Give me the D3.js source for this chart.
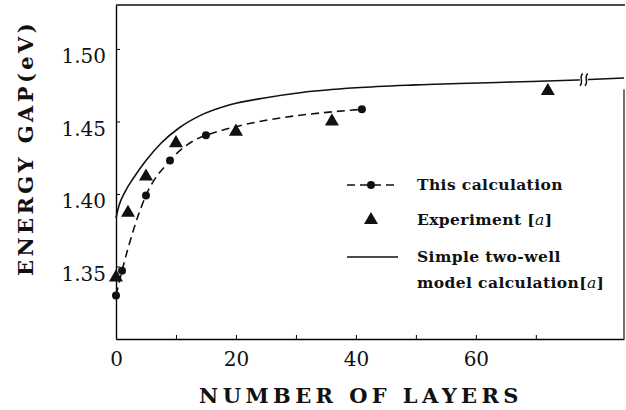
<!DOCTYPE html>
<html>
<head>
<meta charset="utf-8">
<script src="https://cdn.jsdelivr.net/npm/d3@7"></script>
<style>
  body { margin: 0; background: #fff; }
  text { fill: #111; }
</style>
</head>
<body>
<svg id="chart" width="626" height="410"></svg>
<script>
// this calculation (dots, dashed)
var calcLayers = [0, 1, 5, 9, 15, 41]
var calcGap = [1.330, 1.347, 1.399, 1.423, 1.4405, 1.4584]

// experiment [a] (triangles)
var expLayers = [0, 2, 5, 10, 20, 36, 72]
var expGap = [1.3425, 1.387, 1.412, 1.435, 1.443, 1.450, 1.471]

// simple two-well model (solid)
var modelLayers = [0, 0.5, 1.5, 3, 5, 7.5, 10.5, 14, 19, 25, 31, 40, 50, 66, 77, 84.7]
var modelGap = [1.3834, 1.392, 1.4015, 1.4115, 1.423, 1.435, 1.4455, 1.454, 1.4615, 1.4664, 1.47, 1.4732, 1.4752, 1.4772, 1.4786, 1.48]

var xTicks = [0, 10, 20, 30, 40, 50, 60, 70]
var xLabels = [0, 20, 40, 60]
var yTicks = [1.35, 1.40, 1.45, 1.50]
var breakAt = 78

var svg = d3.select('#chart')

var x = d3.scaleLinear().domain([0, 84.7]).range([116, 624])
var y = d3.scaleLinear().domain([1.30, 1.5303]).range([339, 5])

var calc = calcLayers.map((d, i) => ({ x: d, y: calcGap[i] }))
var exp = expLayers.map((d, i) => ({ x: d, y: expGap[i] }))
var model = modelLayers.map((d, i) => ({ x: d, y: modelGap[i] }))

// axes (ticks point inward)
var xAxis = svg
	.append('g')
	.attr('transform', 'translate(0,' + y.range()[0] + ')')
	.call(
		d3
			.axisBottom(x)
			.tickValues(xTicks)
			.tickSize(-4)
			.tickSizeOuter(0)
			.tickPadding(13)
			.tickFormat((d) => (xLabels.includes(d) ? d : ''))
	)
xAxis.select('.domain').attr('stroke-width', 1.4)
xAxis.selectAll('text').attr('font-family', 'DejaVu Serif').attr('font-size', 20)

var yAxis = svg
	.append('g')
	.attr('transform', 'translate(' + x.range()[0] + ',0)')
	.call(d3.axisLeft(y).tickValues(yTicks).tickSize(-4).tickSizeOuter(0).tickPadding(10).tickFormat(d3.format('.2f')))
yAxis.select('.domain').attr('stroke-width', 1.4)
yAxis.selectAll('text').attr('font-family', 'DejaVu Serif').attr('font-size', 20).attr('dy', '0.68em')
svg.selectAll('.tick line').attr('stroke-width', 1)

// top and right edges of the frame
svg
	.append('line')
	.attr('x1', x.range()[0])
	.attr('x2', x.range()[1] + 1)
	.attr('y1', y.range()[1])
	.attr('y2', y.range()[1])
	.attr('stroke', '#111')
	.attr('stroke-width', 1.4)
svg
	.append('line')
	.attr('x1', x.range()[1])
	.attr('x2', x.range()[1])
	.attr('y1', y(1.472))
	.attr('y2', y.range()[0])
	.attr('stroke', '#111')
	.attr('stroke-width', 1.2)

// model curve
var line = d3
	.line()
	.x((d) => x(d.x))
	.y((d) => y(d.y))
	.curve(d3.curveMonotoneX)

svg.append('path').datum(model).attr('d', line).attr('fill', 'none').attr('stroke', '#111').attr('stroke-width', 1.6)

// axis break on the model curve
var bi = modelLayers.findIndex((d) => d > breakAt)
var bt = (breakAt - modelLayers[bi - 1]) / (modelLayers[bi] - modelLayers[bi - 1])
var bx = x(breakAt)
var by = y(modelGap[bi - 1] + bt * (modelGap[bi] - modelGap[bi - 1]))
svg.append('rect').attr('x', bx - 4).attr('y', by - 3).attr('width', 8).attr('height', 6).attr('fill', '#fff')
;[-2.5, 2.5].forEach(function (o) {
	var p = d3.path()
	p.moveTo(bx + o + 1.5, by - 6)
	p.bezierCurveTo(bx + o - 3, by - 3, bx + o + 3, by + 3, bx + o - 1.5, by + 6)
	svg.append('path').attr('d', p.toString()).attr('fill', 'none').attr('stroke', '#111').attr('stroke-width', 1.5)
})

// this calculation
svg
	.append('path')
	.datum(calc)
	.attr('d', line)
	.attr('fill', 'none')
	.attr('stroke', '#111')
	.attr('stroke-width', 1.6)
	.attr('stroke-dasharray', '8,5')

svg
	.selectAll('.dot')
	.data(calc)
	.join('circle')
	.attr('class', 'dot')
	.attr('cx', (d) => x(d.x))
	.attr('cy', (d) => y(d.y))
	.attr('r', 4)
	.attr('fill', '#111')

var tri = d3.symbol().type(d3.symbolTriangle).size(85)
svg
	.selectAll('.tri')
	.data(exp)
	.join('path')
	.attr('class', 'tri')
	.attr('d', tri)
	.attr('transform', (d) => 'translate(' + x(d.x) + ',' + y(d.y) + ')')
	.attr('fill', '#111')

// legend
var lg = svg
	.append('g')
	.attr('font-family', 'DejaVu Serif')
	.attr('font-weight', 'bold')
	.attr('font-size', 15.5)
	.attr('letter-spacing', 0.4)
lg.append('line').attr('x1', 347).attr('x2', 397).attr('y1', 185).attr('y2', 185).attr('stroke', '#111').attr('stroke-width', 1.6).attr('stroke-dasharray', '8,5')
lg.append('circle').attr('cx', 371).attr('cy', 185).attr('r', 4).attr('fill', '#111')
lg.append('path').attr('d', tri).attr('transform', 'translate(371,220)').attr('fill', '#111')
lg.append('line').attr('x1', 347).attr('x2', 398).attr('y1', 257).attr('y2', 257).attr('stroke', '#111').attr('stroke-width', 1.4)

lg.append('text').attr('x', 417).attr('y', 185).attr('dy', '0.35em').text('This calculation')
var t2 = lg.append('text').attr('x', 417).attr('y', 220).attr('dy', '0.35em')
t2.append('tspan').text('Experiment [')
t2.append('tspan').attr('font-style', 'italic').attr('font-weight', 'normal').text('a')
t2.append('tspan').text(']')
lg.append('text').attr('x', 417).attr('y', 257).attr('dy', '0.35em').text('Simple two-well')
var t4 = lg.append('text').attr('x', 417).attr('y', 283).attr('dy', '0.35em')
t4.append('tspan').text('model calculation[')
t4.append('tspan').attr('font-style', 'italic').attr('font-weight', 'normal').text('a')
t4.append('tspan').text(']')

// axis titles
svg
	.append('text')
	.attr('x', 361)
	.attr('y', 403)
	.attr('text-anchor', 'middle')
	.attr('font-family', 'DejaVu Serif')
	.attr('font-weight', 'bold')
	.attr('font-size', 21)
	.attr('letter-spacing', 4.4)
	.text('NUMBER OF LAYERS')

svg
	.append('text')
	.attr('transform', 'translate(33,148) rotate(-90)')
	.attr('text-anchor', 'middle')
	.attr('font-family', 'DejaVu Serif')
	.attr('font-weight', 'bold')
	.attr('font-size', 21)
	.attr('letter-spacing', 3.4)
	.text('ENERGY GAP(eV)')
</script>
</body>
</html>
